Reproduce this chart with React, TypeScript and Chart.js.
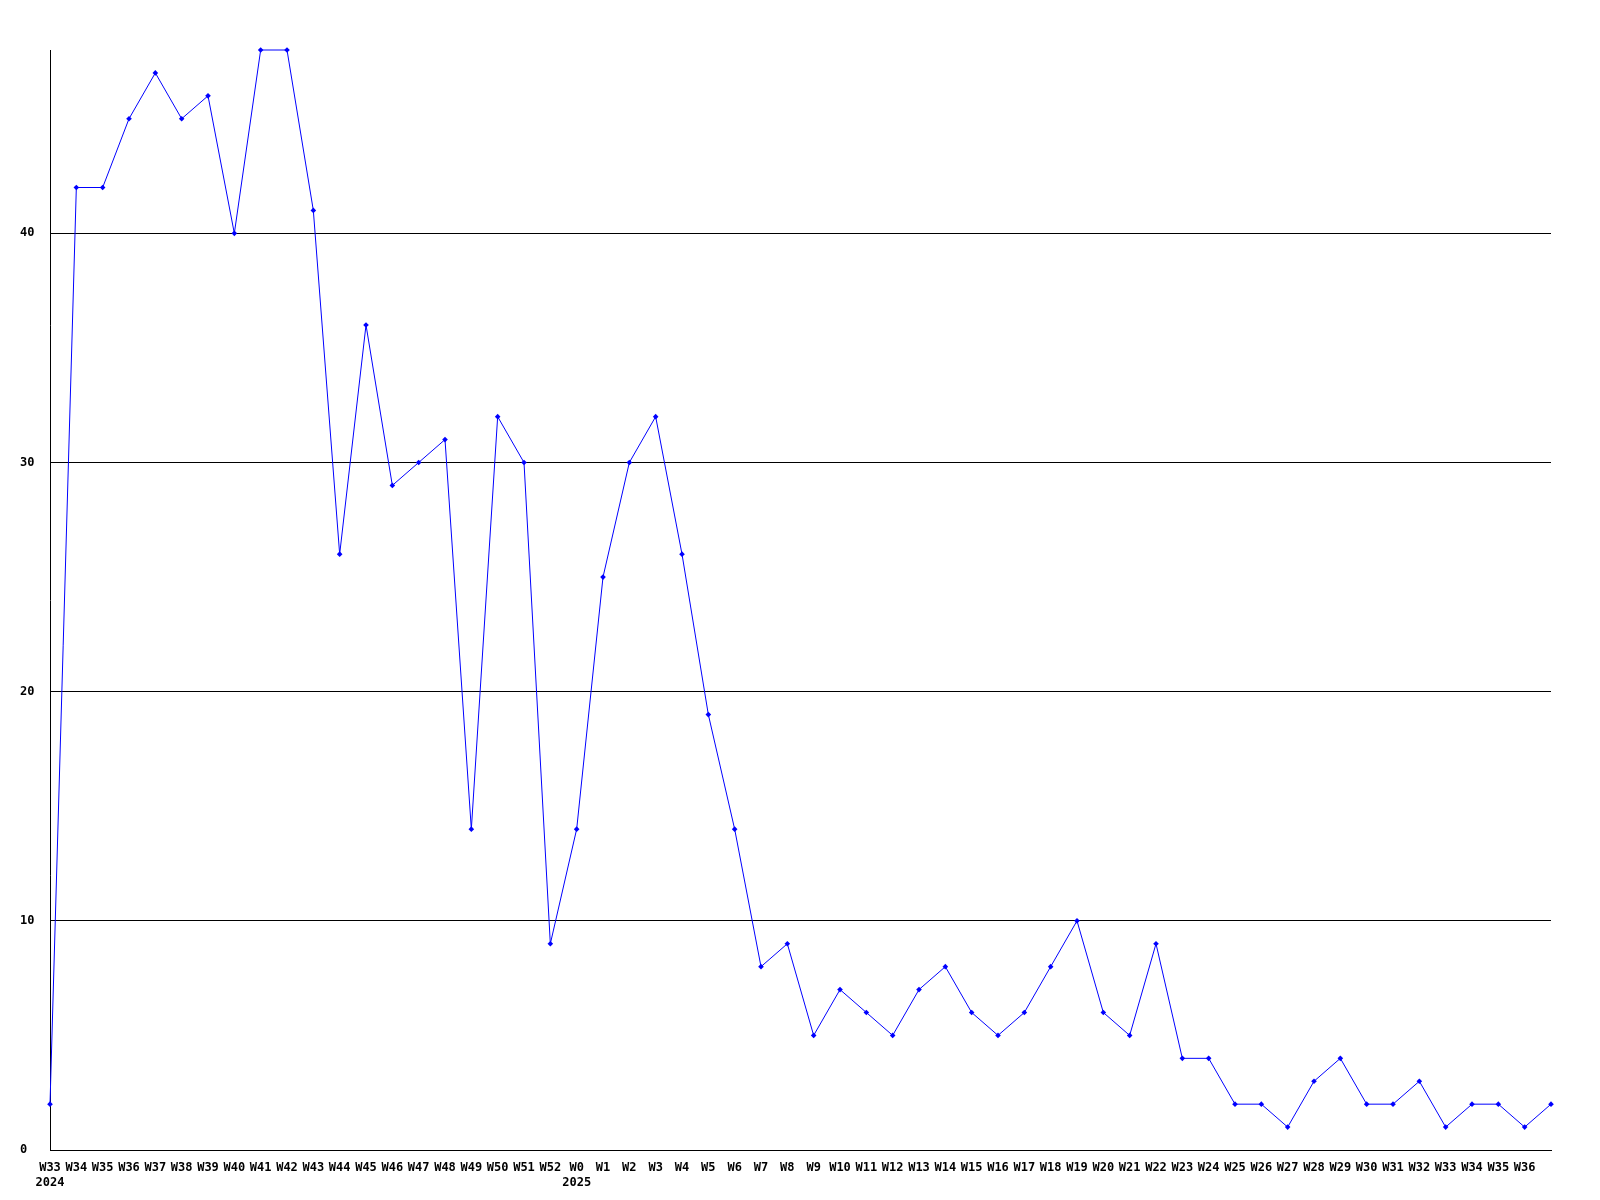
import React, { useEffect, useRef } from "react";
import { Chart, registerables } from "chart.js";

Chart.register(...registerables);

const weekLabels: (string | string[])[] = [
  ["W33", "2024"], "W34", "W35", "W36", "W37", "W38", "W39", "W40", "W41", "W42",
  "W43", "W44", "W45", "W46", "W47", "W48", "W49", "W50", "W51", "W52",
  ["W0", "2025"], "W1", "W2", "W3", "W4", "W5", "W6", "W7", "W8", "W9",
  "W10", "W11", "W12", "W13", "W14", "W15", "W16", "W17", "W18", "W19",
  "W20", "W21", "W22", "W23", "W24", "W25", "W26", "W27", "W28", "W29",
  "W30", "W31", "W32", "W33", "W34", "W35", "W36", "",
];

const counts: number[] = [
  2, 42, 42, 45, 47, 45, 46, 40, 48, 48,
  41, 26, 36, 29, 30, 31, 14, 32, 30, 9,
  14, 25, 30, 32, 26, 19, 14, 8, 9, 5,
  7, 6, 5, 7, 8, 6, 5, 6, 8, 10,
  6, 5, 9, 4, 4, 2, 2, 1, 3, 4,
  2, 2, 3, 1, 2, 2, 1, 2,
];

const yMin = 0;
const yMax = 48;
const yStep = 10;

export default function App() {
  const ref = useRef<HTMLCanvasElement | null>(null);

  useEffect(() => {
    if (!ref.current) return;
    const font = { family: "'DejaVu Sans Mono', monospace", size: 12, weight: "bold" as const };
    const chart = new Chart(ref.current, {
      type: "line",
      data: {
        labels: weekLabels,
        datasets: [
          {
            data: counts,
            borderColor: "#0000ff",
            backgroundColor: "#0000ff",
            borderWidth: 1,
            pointStyle: "rectRot",
            pointRadius: 2.8,
            pointBorderWidth: 0,
            pointBackgroundColor: "#0000ff",
            tension: 0,
            clip: false,
          },
        ],
      },
      options: {
        responsive: false,
        animation: false,
        layout: { padding: { left: 20, top: 50, right: 49, bottom: 0 } },
        plugins: { legend: { display: false }, tooltip: { enabled: false } },
        scales: {
          x: {
            type: "category",
            offset: false,
            grid: { display: false },
            border: { display: true, color: "#000000", width: 1 },
            ticks: {
              autoSkip: false,
              maxRotation: 0,
              minRotation: 0,
              color: "#000000",
              font,
              padding: 3,
            },
            afterFit: (s: any) => {
              s.height = 50;
            },
          },
          y: {
            min: yMin,
            max: yMax,
            grid: { color: "#000000", lineWidth: 1, drawTicks: false },
            border: { display: true, color: "#000000", width: 1 },
            ticks: {
              stepSize: yStep,
              color: "#000000",
              font,
              crossAlign: "far",
              padding: 0,
            },
            afterBuildTicks: (s: any) => {
              s.ticks = s.ticks.filter((t: any) => t.value % yStep === 0);
            },
            afterFit: (s: any) => {
              s.width = 30;
            },
          },
        },
      },
    });
    return () => chart.destroy();
  }, []);

  return (
    <div style={{ position: "absolute", left: 0, top: 0, width: 1600, height: 1200, background: "#fff" }}>
      <canvas ref={ref} width={1600} height={1200} style={{ display: "block" }} />
    </div>
  );
}
